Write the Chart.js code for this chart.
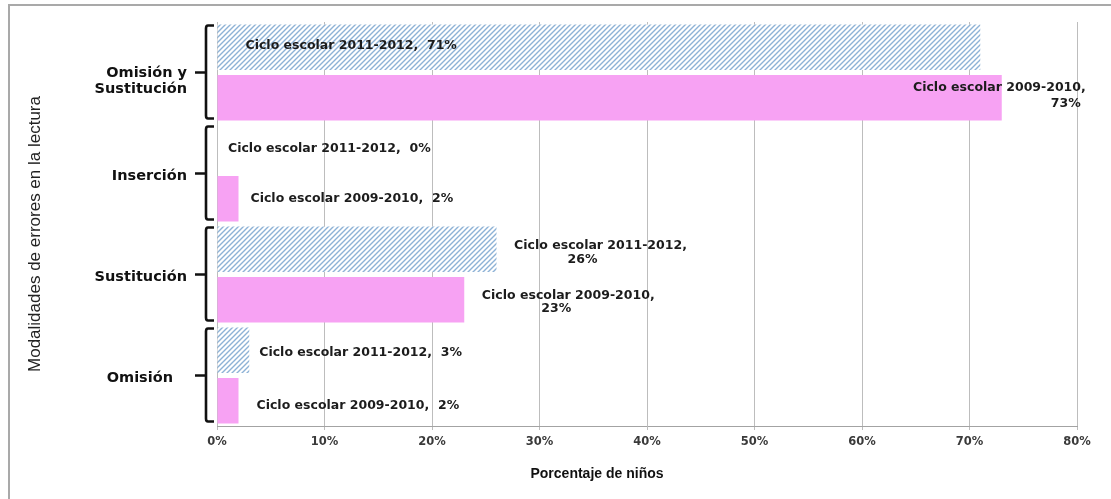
<!DOCTYPE html>
<html lang="es">
<head>
<meta charset="utf-8">
<script src="https://cdn.jsdelivr.net/npm/chart.js@4.4.1/dist/chart.umd.min.js"></script>
<style>
  html, body { margin: 0; padding: 0; background: #fff; }
  #wrap { width: 1111px; height: 499px; position: relative; }
</style>
</head>
<body>
<div id="wrap"><canvas id="chart" width="1111" height="499"></canvas></div>
<script>
// ---- data ----
const categories = [['Omisión y', 'Sustitución'], 'Inserción', 'Sustitución', 'Omisión'];
const cycles = ['2011-2012', '2009-2010'];
const values2011_2012 = [71, 0, 26, 3];
const values2009_2010 = [73, 2, 23, 2];
const tickValues = [0, 10, 20, 30, 40, 50, 60, 70, 80];
const xTitle = 'Porcentaje de niños';
const yTitle = 'Modalidades de errores en la lectura';

// ---- styling ----
const PINK = '#f7a2f3';
const HATCH = '#8db2d6';
const TEXT = '#1c1c1c';
const LABEL_FONT = 'bold 12.5px "DejaVu Sans", sans-serif';
const CAT_FONT = 'bold 14.5px "DejaVu Sans", sans-serif';

// horizontal nudge of each category label (px)
const categoryLabelShift = [0, 0, 0, -14];

// where each value label sits relative to its bar (px):
// from 'base' or 'end' of the bar; one entry per drawn line
const labelPlacement = [
  [ // 2011-2012
    { from: 'base', wrap: false, lines: [{ dx: 28, dy: -2, align: 'left' }] },
    { from: 'end',  wrap: false, lines: [{ dx: 11, dy: 0, align: 'left' }] },
    { from: 'end',  wrap: true,  lines: [{ dx: 104, dy: -4, align: 'center' }, { dx: 86, dy: 10, align: 'center' }] },
    { from: 'end',  wrap: false, lines: [{ dx: 10, dy: 2, align: 'left' }] }
  ],
  [ // 2009-2010
    { from: 'end',  wrap: true,  lines: [{ dx: 84, dy: -10, align: 'right' }, { dx: 79, dy: 6, align: 'right' }] },
    { from: 'end',  wrap: false, lines: [{ dx: 12, dy: 0, align: 'left' }] },
    { from: 'end',  wrap: true,  lines: [{ dx: 104, dy: -4, align: 'center' }, { dx: 92, dy: 9, align: 'center' }] },
    { from: 'end',  wrap: false, lines: [{ dx: 18, dy: 5, align: 'left' }] }
  ]
];

function makeHatch() {
  const s = 5;
  const c = document.createElement('canvas');
  c.width = s; c.height = s;
  const g = c.getContext('2d');
  g.fillStyle = '#ffffff';
  g.fillRect(0, 0, s, s);
  g.strokeStyle = HATCH;
  g.lineWidth = 1.4;
  g.beginPath();
  g.moveTo(-1, s + 1); g.lineTo(s + 1, -1);
  g.moveTo(-1, 1); g.lineTo(1, -1);
  g.moveTo(s - 1, s + 1); g.lineTo(s + 1, s - 1);
  g.stroke();
  return g.createPattern(c, 'repeat');
}

const decorations = {
  id: 'decorations',
  beforeDraw(chart) {
    const { ctx, width, height } = chart;
    ctx.save();
    ctx.fillStyle = '#fff';
    ctx.fillRect(0, 0, width, height);
    ctx.strokeStyle = '#a9a9a9';
    ctx.lineWidth = 2;
    ctx.strokeRect(9, 5, width + 20, height + 20);
    ctx.restore();
  },
  afterDatasetsDraw(chart) {
    const { ctx } = chart;
    ctx.save();
    ctx.font = LABEL_FONT;
    ctx.fillStyle = TEXT;
    ctx.textBaseline = 'middle';
    chart.data.datasets.forEach((ds, di) => {
      const meta = chart.getDatasetMeta(di);
      meta.data.forEach((bar, i) => {
        const v = ds.data[i];
        const p = labelPlacement[di][i];
        const text = p.wrap
          ? ['Ciclo escolar ' + cycles[di] + ',', v + '%']
          : ['Ciclo escolar ' + cycles[di] + ',  ' + v + '%'];
        const ref = p.from === 'base' ? bar.base : bar.x;
        text.forEach((t, li) => {
          const l = p.lines[li];
          ctx.textAlign = l.align;
          ctx.fillText(t, ref + l.dx, bar.y + l.dy);
        });
      });
    });
    ctx.restore();
  },
  afterDraw(chart) {
    const { ctx } = chart;
    const y = chart.scales.y;
    const area = chart.chartArea;
    const n = y.getLabels().length;
    const band = (area.bottom - area.top) / n;
    ctx.save();
    // brackets grouping each pair of bars
    ctx.strokeStyle = '#111';
    ctx.lineWidth = 2.6;
    ctx.lineJoin = 'round';
    ctx.lineCap = 'butt';
    y.getLabels().forEach((lab, i) => {
      const c = y.getPixelForValue(i);
      const t = c - band / 2 + 3.5;
      const b = c + band / 2 - 4.5;
      const xv = 206, xs = 214;
      ctx.beginPath();
      ctx.moveTo(xs, t);
      ctx.lineTo(xv + 2, t);
      ctx.quadraticCurveTo(xv, t, xv, t + 3);
      ctx.lineTo(xv, b - 3);
      ctx.quadraticCurveTo(xv, b, xv + 2, b);
      ctx.lineTo(xs, b);
      ctx.moveTo(195, c);
      ctx.lineTo(xv, c);
      ctx.stroke();
    });
    // category names
    ctx.font = CAT_FONT;
    ctx.fillStyle = '#111';
    ctx.textAlign = 'right';
    ctx.textBaseline = 'middle';
    y.getLabels().forEach((lab, i) => {
      const c = y.getPixelForValue(i);
      const x = 187 + categoryLabelShift[i];
      if (Array.isArray(lab)) {
        lab.forEach((line, li) => ctx.fillText(line, x, c + 0.5 + li * 16));
      } else {
        ctx.fillText(lab, x, c + 3);
      }
    });
    // axis titles
    ctx.font = 'bold 14px "Liberation Sans", Arial, sans-serif';
    ctx.textAlign = 'center';
    ctx.fillStyle = '#111';
    ctx.fillText(xTitle, 597, 474);
    ctx.translate(35, 234);
    ctx.rotate(-Math.PI / 2);
    ctx.font = '17px "Liberation Sans", Arial, sans-serif';
    ctx.fillStyle = '#222';
    ctx.fillText(yTitle, 0, 0);
    ctx.restore();
  }
};

new Chart(document.getElementById('chart'), {
  type: 'bar',
  data: {
    labels: categories,
    datasets: [
      { label: 'Ciclo escolar ' + cycles[0], data: values2011_2012, backgroundColor: makeHatch(), borderWidth: 0 },
      { label: 'Ciclo escolar ' + cycles[1], data: values2009_2010, backgroundColor: PINK, borderWidth: 0 }
    ]
  },
  options: {
    indexAxis: 'y',
    responsive: false,
    animation: false,
    devicePixelRatio: 1,
    layout: { padding: { top: 22, right: 34, bottom: 0, left: 0 } },
    datasets: { bar: { barPercentage: 0.9, categoryPercentage: 1.0 } },
    plugins: { legend: { display: false }, tooltip: { enabled: false } },
    scales: {
      x: {
        min: 0, max: 80,
        afterBuildTicks: s => { s.ticks = tickValues.map(v => ({ value: v })); },
        afterFit: s => { s.height = 73; },
        grid: { color: '#bdbdbd', lineWidth: 1, tickLength: 4, drawTicks: true },
        border: { color: '#a3a3a3', width: 1 },
        ticks: {
          callback: v => v + '%',
          font: { family: '"DejaVu Sans", sans-serif', size: 11.5, weight: 'bold' },
          color: '#3a3a3a',
          padding: 5,
          maxRotation: 0
        }
      },
      y: {
        afterFit: s => { s.width = 217; },
        grid: { display: false, drawTicks: false, tickLength: 0 },
        border: { display: false },
        ticks: { display: false }
      }
    }
  },
  plugins: [decorations]
});
</script>
</body>
</html>
